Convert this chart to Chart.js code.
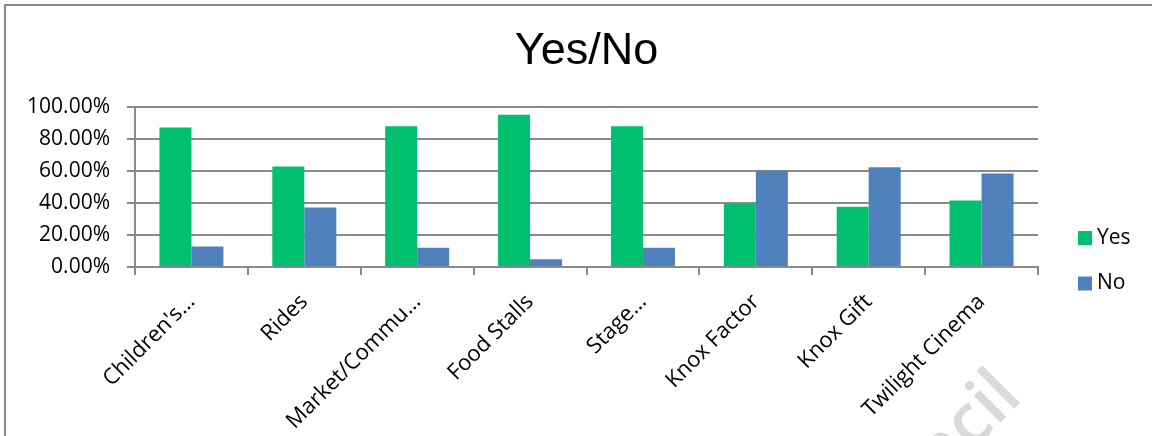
<!DOCTYPE html>
<html>
<head>
<meta charset="utf-8">
<title>Yes/No</title>
<script src="https://cdn.jsdelivr.net/npm/chart.js@4.4.1/dist/chart.umd.min.js"></script>
<style>
  html, body { margin: 0; padding: 0; background: #fff; overflow: hidden; }
  #frame {
    position: absolute; left: 4px; top: 4px; width: 1160px; height: 440px;
    border-left: 2px solid #8a8a8a; border-top: 2px solid #8a8a8a;
  }
  #chart { display: block; }
</style>
</head>
<body>
<div id="frame"><canvas id="chart" width="1150" height="430"></canvas></div>
<script>
const categories = ["Children's…", 'Rides', 'Market/Commu…', 'Food Stalls', 'Stage…', 'Knox Factor', 'Knox Gift', 'Twilight Cinema'];
const yesValues = [87.2, 62.8, 88.0, 95.2, 88.0, 39.9, 37.6, 41.6];
const noValues = [12.8, 37.2, 12.0, 4.8, 12.0, 60.1, 62.4, 58.4];
const yTicks = [0, 20, 40, 60, 80, 100];
const seriesNames = ['Yes', 'No'];
const seriesColors = ['#00bf6f', '#4f81bd'];

const GRID = '#8a8a8a';
const FONT = "'Open Sans', sans-serif";

// legend sits to the right of the plot, a bit below its middle
const sideLegend = {
  id: 'sideLegend',
  afterDraw(chart) {
    const { ctx, chartArea } = chart;
    ctx.save();
    ctx.font = '21px ' + FONT;
    ctx.textBaseline = 'middle';
    chart.data.datasets.forEach((ds, i) => {
      const x = chartArea.right + 40;
      const y = 232 + i * 45.5;
      ctx.fillStyle = ds.backgroundColor;
      ctx.fillRect(x, y - 7, 14, 14);
      ctx.fillStyle = '#000';
      ctx.fillText(ds.label, x + 19, y);
    });
    ctx.restore();
  }
};

// faint diagonal stamp in the lower right corner
const watermark = {
  id: 'watermark',
  beforeDraw(chart) {
    const { ctx } = chart;
    ctx.save();
    ctx.translate(1018, 393);
    ctx.rotate(-Math.PI / 4);
    ctx.font = '600 70px ' + FONT;
    ctx.fillStyle = '#dadada';
    ctx.textAlign = 'right';
    ctx.fillText('Council', 0, 0);
    ctx.restore();
  }
};

new Chart(document.getElementById('chart'), {
  type: 'bar',
  data: {
    labels: categories,
    datasets: [
      { label: seriesNames[0], data: yesValues, backgroundColor: seriesColors[0] },
      { label: seriesNames[1], data: noValues, backgroundColor: seriesColors[1] },
    ],
  },
  options: {
    responsive: false,
    animation: false,
    borderWidth: 0,
    categoryPercentage: 0.567,
    barPercentage: 1.0,
    layout: { padding: { left: 0, right: 118, top: 0, bottom: 0 } },
    plugins: {
      legend: { display: false },
      tooltip: { enabled: false },
      title: {
        display: true,
        fullSize: false,
        text: 'Yes/No',
        color: '#000',
        font: { family: "'Liberation Sans', Arial, sans-serif", size: 45, weight: 'normal', lineHeight: 1.2 },
        padding: { top: 19, bottom: 28 },
      },
    },
    scales: {
      x: {
        grid: {
          drawOnChartArea: false, drawTicks: true, tickLength: 8,
          offset: true, color: GRID, lineWidth: 2,
        },
        border: { display: true, color: GRID, width: 2 },
        ticks: {
          color: '#000', font: { family: FONT, size: 22 },
          minRotation: 45, maxRotation: 45, autoSkip: false, padding: 14,
        },
        afterFit(scale) { scale.height = 169; },
      },
      y: {
        min: 0,
        max: 100,
        afterBuildTicks(scale) { scale.ticks = yTicks.map((v) => ({ value: v })); },
        grid: { color: GRID, lineWidth: 2, tickLength: 8 },
        border: { display: true, color: GRID, width: 2 },
        ticks: {
          color: '#000', font: { family: FONT, size: 21 }, padding: 17,
          callback: (v) => v.toFixed(2) + '%',
        },
        afterFit(scale) { scale.width = 129; },
      },
    },
  },
  plugins: [watermark, sideLegend],
});
</script>
</body>
</html>
